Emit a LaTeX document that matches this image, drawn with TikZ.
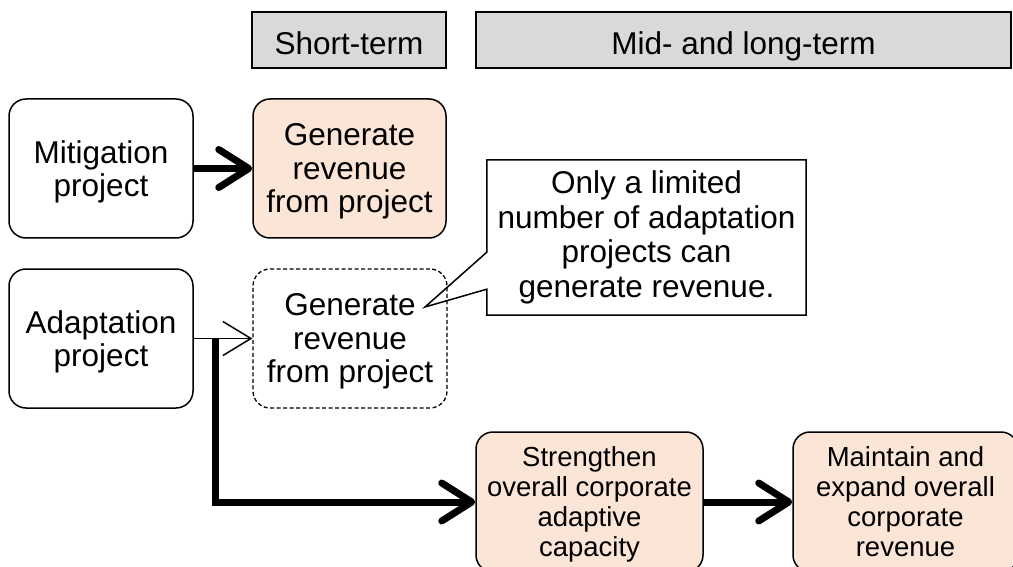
\documentclass[tikz,border=0pt]{standalone}
\usepackage{fontspec}
\setmainfont{Liberation Sans}
\usetikzlibrary{arrows.meta}
\definecolor{peach}{HTML}{FBE5D6}
\definecolor{hdrgray}{HTML}{D9D9D9}

\begin{document}
\begin{tikzpicture}[x=1pt,y=-1pt,
  bigtext/.style={font=\fontsize{31.5}{33.5}\selectfont},
  smalltext/.style={font=\fontsize{27.5}{30}\selectfont},
  basebox/.style={draw, line width=1.5pt, inner sep=0pt, align=center},
  rbox/.style={basebox, rounded corners=17pt, text depth=0pt},
  header/.style={basebox, fill=hdrgray, bigtext, text height=30pt, text depth=0pt},
  project/.style={rbox, fill=white, bigtext, minimum width=184pt, minimum height=139pt},
  outcome/.style={rbox, fill=peach},
  maybe/.style={rbox, fill=white, line width=1.3pt, dash pattern=on 4pt off 2.5pt, bigtext},
  heavyarrow/.style={line width=7pt, -{Straight Barb[length=30pt, width=38pt, round]}},
  lightarrow/.style={line width=1.5pt, -{Straight Barb[length=28pt, width=34pt]}},
]
\useasboundingbox (0,0) rectangle (1013,567);
\clip (0,0) rectangle (1013,567);

% time-horizon headers
\node[header, minimum width=194pt, minimum height=56pt] (short) at (349,40) {Short-term};
\node[header, minimum width=535pt, minimum height=56pt] (mid) at (743.5,40) {Mid- and long-term};

% project types
\node[project] (mit) at (101,168.5) {Mitigation\\project};
\node[project] (adapt) at (101,338.5) {Adaptation\\project};

% short-term outcomes
\node[outcome, bigtext, minimum width=193pt, minimum height=139pt] (gen1) at (349.5,168.5) {Generate\\revenue\\from project};
\node[maybe, minimum width=194pt, minimum height=139pt] (gen2) at (350,338.5) {Generate\\revenue\\from project};

% mid- and long-term outcomes
\node[outcome, smalltext, minimum width=227pt, minimum height=140pt] (str) at (589.5,502) {Strengthen\\overall corporate\\adaptive\\capacity};
\node[outcome, smalltext, minimum width=225pt, minimum height=140pt] (keep) at (905.5,502) {Maintain and\\expand overall\\corporate\\revenue};

% connectors
\draw[heavyarrow] (mit.east) -- (gen1.west);
\draw[lightarrow] (adapt.east) -- (gen2.west);
\coordinate (split) at (215,338.5);
\draw[heavyarrow] (split) |- (str.west);
\draw[heavyarrow] (str.east) -- (keep.west);

% speech-bubble note pointing at the uncertain revenue box
\node[fill=white, inner sep=0pt, minimum width=319pt, minimum height=155pt, align=center,
      font=\fontsize{31.5}{34.5}\selectfont] (note) at (646.5,237.5)
  {Only a limited\\number of adaptation\\projects can\\generate revenue.};
\coordinate (tip) at (425,307);
\draw[line width=1.5pt, line join=miter]
  (note.north west) -- (note.north east) -- (note.south east) -- (note.south west)
  -- ([yshift=26pt]note.south west) -- (tip) -- ([yshift=63pt]note.south west) -- cycle;
\end{tikzpicture}
\end{document}
